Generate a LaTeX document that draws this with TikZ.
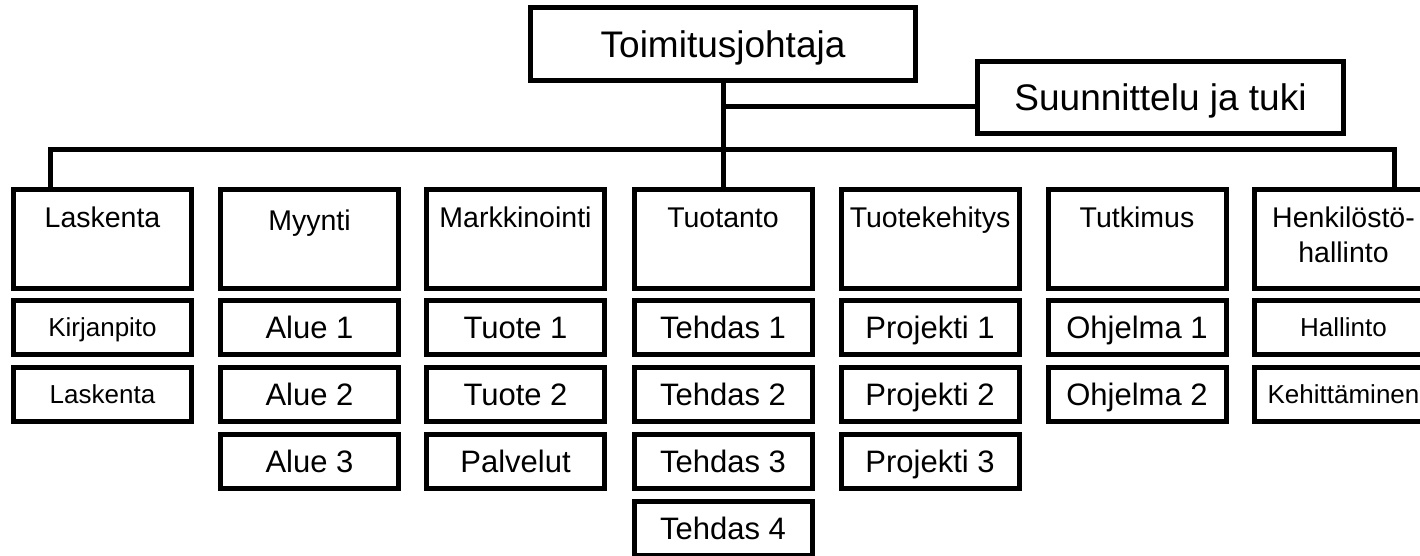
\documentclass[tikz,border=0pt]{standalone}
\usepackage{fontspec}
\setmainfont{Liberation Sans}
\usepackage{xcolor}
\usetikzlibrary{arrows}

\tikzset{
    laatikko/.style={draw, rectangle, line width=5pt, inner sep=0pt},
    osasto/.style={laatikko, minimum width=178pt, font=\fontsize{28.5}{35}\selectfont,
        text height=37.5pt, text depth=61.5pt},
    yksikko/.style={laatikko, minimum width=178pt, minimum height=54pt,
        font=\fontsize{31}{37}\selectfont, text height=22.2pt, text depth=0pt},
    pieni/.style={yksikko, font=\fontsize{26}{31}\selectfont, text height=18.6pt},
    viiva/.style={line width=5pt, line join=miter}
}

\begin{document}
\begin{tikzpicture}[x=1pt, y=-1pt]
    \useasboundingbox (0,0) rectangle (1420,555);
    \clip (0,0) rectangle (1420,555);

    % 定义点变量
    \coordinate (haara) at (723,106);
    \coordinate (vasen) at (50,149);
    \coordinate (oikea) at (1394,149);

    % 上层
    \node[laatikko, minimum width=385pt, minimum height=73pt, font=\fontsize{37}{44}\selectfont,
        text height=26.5pt, text depth=0pt] (johtaja) at (723,44) {Toimitusjohtaja};
    \node[laatikko, minimum width=366pt, minimum height=72pt, font=\fontsize{37}{44}\selectfont,
        text height=26.5pt, text depth=0pt] (suunnittelu) at (1160.5,97.5) {Suunnittelu ja tuki};

    % 部门
    \node[osasto] (laskenta) at (102.5,239) {Laskenta};
    \node[osasto, text height=40.5pt, text depth=58.5pt] (myynti) at (309.5,239) {Myynti};
    \node[osasto] (markkinointi) at (515.5,239) {Markkinointi};
    \node[osasto] (tuotanto) at (723,239) {Tuotanto};
    \node[osasto] (tuotekehitys) at (930,239) {Tuotekehitys};
    \node[osasto] (tutkimus) at (1137,239) {Tutkimus};
    \node[osasto, text height=72.5pt, text depth=26.5pt] (henkilosto) at (1343.5,239)
        {\begin{tabular}[b]{@{}c@{}}Henkilöstö-\\hallinto\end{tabular}};

    % 下层
    \node[pieni] (kirjanpito) at (102.5,327.5) {Kirjanpito};
    \node[pieni] (laskenta2) at (102.5,394.5) {Laskenta};

    \node[yksikko] (alue1) at (309.5,327.5) {Alue 1};
    \node[yksikko] (alue2) at (309.5,394.5) {Alue 2};
    \node[yksikko] (alue3) at (309.5,461.5) {Alue 3};

    \node[yksikko] (tuote1) at (515.5,327.5) {Tuote 1};
    \node[yksikko] (tuote2) at (515.5,394.5) {Tuote 2};
    \node[yksikko] (palvelut) at (515.5,461.5) {Palvelut};

    \node[yksikko] (tehdas1) at (723,327.5) {Tehdas 1};
    \node[yksikko] (tehdas2) at (723,394.5) {Tehdas 2};
    \node[yksikko] (tehdas3) at (723,461.5) {Tehdas 3};
    \node[yksikko] (tehdas4) at (723,528.5) {Tehdas 4};

    \node[yksikko] (projekti1) at (930,327.5) {Projekti 1};
    \node[yksikko] (projekti2) at (930,394.5) {Projekti 2};
    \node[yksikko] (projekti3) at (930,461.5) {Projekti 3};

    \node[yksikko] (ohjelma1) at (1137,327.5) {Ohjelma 1};
    \node[yksikko] (ohjelma2) at (1137,394.5) {Ohjelma 2};

    \node[pieni] (hallinto) at (1343.5,327.5) {Hallinto};
    \node[pieni] (kehittaminen) at (1343.5,394.5) {Kehittäminen};

    % 使用变量连线
    \draw[viiva] (johtaja) -- (tuotanto);
    \draw[viiva] (haara) -- (haara -| suunnittelu.west);
    \draw[viiva] (vasen |- laskenta.north) -- (vasen) -- (oikea) -- (oikea |- henkilosto.north);

\end{tikzpicture}
\end{document}
